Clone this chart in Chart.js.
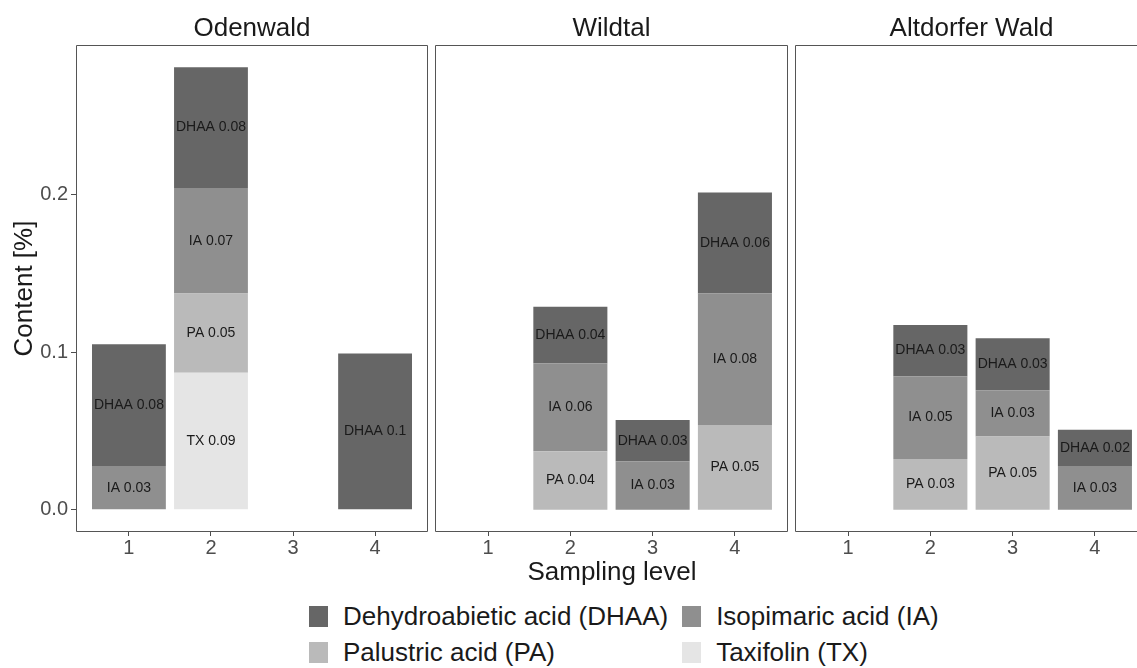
<!DOCTYPE html>
<html lang="en">
<head>
<meta charset="UTF-8">
<title>Resin acid and taxifolin content by sampling level</title>
<script src="https://cdn.jsdelivr.net/npm/chart.js"></script>
<style>
  html, body { margin: 0; background: #fff; font-family: 'Liberation Sans', Arial, sans-serif; overflow: hidden; }
  #wrap { position: relative; width: 1137px; height: 668px; overflow: hidden; background: #fff; }
  .cell { position: absolute; top: 0; height: 560px; overflow: hidden; }
  .cell canvas { display: block; }
  #xTitle { position: absolute; left: 0; width: 1224px; top: 556px; text-align: center; font-size: 26px; color: #1a1a1a; }
  #legend { position: absolute; left: 309px; top: 598px; display: grid; grid-template-columns: auto auto; column-gap: 14px; }
  .item { display: flex; align-items: center; height: 36px; font-size: 26px; color: #1a1a1a; white-space: nowrap; }
  .key { width: 19px; height: 21px; margin-right: 15px; }
</style>
</head>
<body>
<div id="wrap">
  <div class="cell" style="left:0px;width:430px"><canvas id="p0" width="430" height="560"></canvas></div>
  <div class="cell" style="left:433px;width:357px"><canvas id="p1" width="357" height="560"></canvas></div>
  <div class="cell" style="left:793px;width:344px"><canvas id="p2" width="357" height="560"></canvas></div>
  <div id="xTitle">Sampling level</div>
  <div id="legend"></div>
</div>

<script>
const sites = ['Odenwald', 'Wildtal', 'Altdorfer Wald'];
const levels = [1, 2, 3, 4];
const compounds = ['Dehydroabietic acid (DHAA)', 'Isopimaric acid (IA)', 'Palustric acid (PA)', 'Taxifolin (TX)'];
const shortNames = ['DHAA', 'IA', 'PA', 'TX'];
const fills = ['#666666', '#8f8f8f', '#bababa', '#e5e5e5'];
const yTicks = [0, 0.1, 0.2];

// content [%] per site (rows) and sampling level 1-4 (columns), null = not found
const dhaaValues = [
  [0.0773, 0.0766, null, 0.0992],
  [null, 0.0359, 0.0262, 0.0640],
  [null, 0.0325, 0.0330, 0.0230]
];
const iaValues = [
  [0.0278, 0.0669, null, null],
  [null, 0.0558, 0.0308, 0.0835],
  [null, 0.0525, 0.0293, 0.0278]
];
const paValues = [
  [null, 0.0504, null, null],
  [null, 0.0372, null, 0.0538],
  [null, 0.0323, 0.0466, null]
];
const txValues = [
  [null, 0.0869, null, null],
  [null, null, null, null],
  [null, null, null, null]
];
const seriesValues = [dhaaValues, iaValues, paValues, txValues];

const FONT = "'Liberation Sans', Arial, sans-serif";
Chart.defaults.font.family = FONT;

// shared y range: stack totals plus 5% on both ends, like the x range around bars 0.55..4.45
const totals = [];
sites.forEach((s, i) => levels.forEach((l, j) => {
  totals.push(seriesValues.reduce((sum, v) => sum + (v[i][j] || 0), 0));
}));
const yTop = Math.max(...totals);
const yMin = -0.05 * yTop, yMax = yTop * 1.05;
const xMin = 0.55 - 0.05 * 3.9, xMax = 4.45 + 0.05 * 3.9;

const fmt = v => String(Number(v.toFixed(2)));

// frame around each facet; the last facet runs past the page edge, so no right side there
const panelFrame = {
  id: 'panelFrame',
  afterDraw(chart, args, opts) {
    const { ctx, chartArea: a } = chart;
    const l = Math.round(a.left) + 0.5, t = Math.round(a.top) + 0.5;
    const r = Math.round(a.right) - 0.5, b = Math.round(a.bottom) - 0.5;
    ctx.save();
    ctx.lineWidth = 1;
    ctx.strokeStyle = '#555555';
    ctx.beginPath();
    if (opts.closed) {
      ctx.moveTo(r, b); ctx.lineTo(r, t);
    } else {
      ctx.moveTo(r, t);
    }
    ctx.lineTo(l, t); ctx.lineTo(l, b); ctx.lineTo(r, b);
    ctx.stroke();
    ctx.restore();
  }
};

// "DHAA 0.08" etc. in the middle of every segment
const segmentLabels = {
  id: 'segmentLabels',
  afterDatasetsDraw(chart) {
    const ctx = chart.ctx;
    ctx.save();
    ctx.font = '14px ' + FONT;
    ctx.fillStyle = '#1a1a1a';
    ctx.textAlign = 'center';
    ctx.textBaseline = 'middle';
    chart.data.datasets.forEach((ds, d) => {
      chart.getDatasetMeta(d).data.forEach((bar, j) => {
        const { x, y, base } = bar.getProps(['x', 'y', 'base'], true);
        ctx.fillText(ds.short + ' ' + fmt(ds.data[j].y), x, (y + base) / 2);
      });
    });
    ctx.restore();
  }
};

function makePanel(i) {
  // stack from the bottom: TX, PA, IA, DHAA
  const datasets = [3, 2, 1, 0].map(k => ({
    label: compounds[k],
    short: shortNames[k],
    backgroundColor: fills[k],
    borderWidth: 0,
    barPercentage: 0.9,
    categoryPercentage: 1,
    data: levels.map((lv, j) => ({ x: lv, y: seriesValues[k][i][j] })).filter(p => p.y !== null)
  }));

  return new Chart(document.getElementById('p' + i), {
    type: 'bar',
    data: { datasets },
    options: {
      responsive: false,
      animation: false,
      layout: { padding: { left: i === 0 ? 0 : 2, right: 2, top: 0, bottom: 0 } },
      plugins: {
        legend: { display: false },
        tooltip: { enabled: false },
        panelFrame: { closed: i < sites.length - 1 },
        title: {
          display: true,
          text: sites[i],
          fullSize: false,
          color: '#1a1a1a',
          font: { size: 26, weight: 'normal' },
          padding: { top: 13, bottom: 0.8 }
        }
      },
      scales: {
        x: {
          type: 'linear',
          stacked: true,
          offset: false,
          min: xMin,
          max: xMax,
          afterBuildTicks: s => { s.ticks = levels.map(v => ({ value: v })); },
          afterFit: s => { s.height = 28; },
          ticks: { callback: v => String(v), color: '#4d4d4d', font: { size: 20 }, padding: 0, maxRotation: 0, autoSkip: false },
          grid: { offset: false, drawOnChartArea: false, tickLength: 4, color: '#4d4d4d' },
          border: { display: false }
        },
        y: {
          stacked: true,
          display: i === 0,
          min: yMin,
          max: yMax,
          afterBuildTicks: s => { s.ticks = yTicks.map(v => ({ value: v })); },
          afterFit: s => { s.width = i === 0 ? 76 : 0; },
          ticks: { callback: v => v.toFixed(1), color: '#4d4d4d', font: { size: 20 }, padding: 3 },
          grid: { drawOnChartArea: false, tickLength: 5, color: '#4d4d4d' },
          border: { display: false },
          title: { display: true, text: 'Content [%]', color: '#1a1a1a', font: { size: 26 }, padding: { top: 9, bottom: 0 } }
        }
      }
    },
    plugins: [panelFrame, segmentLabels]
  });
}

sites.forEach((s, i) => makePanel(i));

// legend, two per row
const legend = document.getElementById('legend');
compounds.forEach((name, k) => {
  const item = document.createElement('div');
  item.className = 'item';
  const key = document.createElement('span');
  key.className = 'key';
  key.style.background = fills[k];
  item.appendChild(key);
  item.appendChild(document.createTextNode(name));
  legend.appendChild(item);
});
</script>
</body>
</html>
